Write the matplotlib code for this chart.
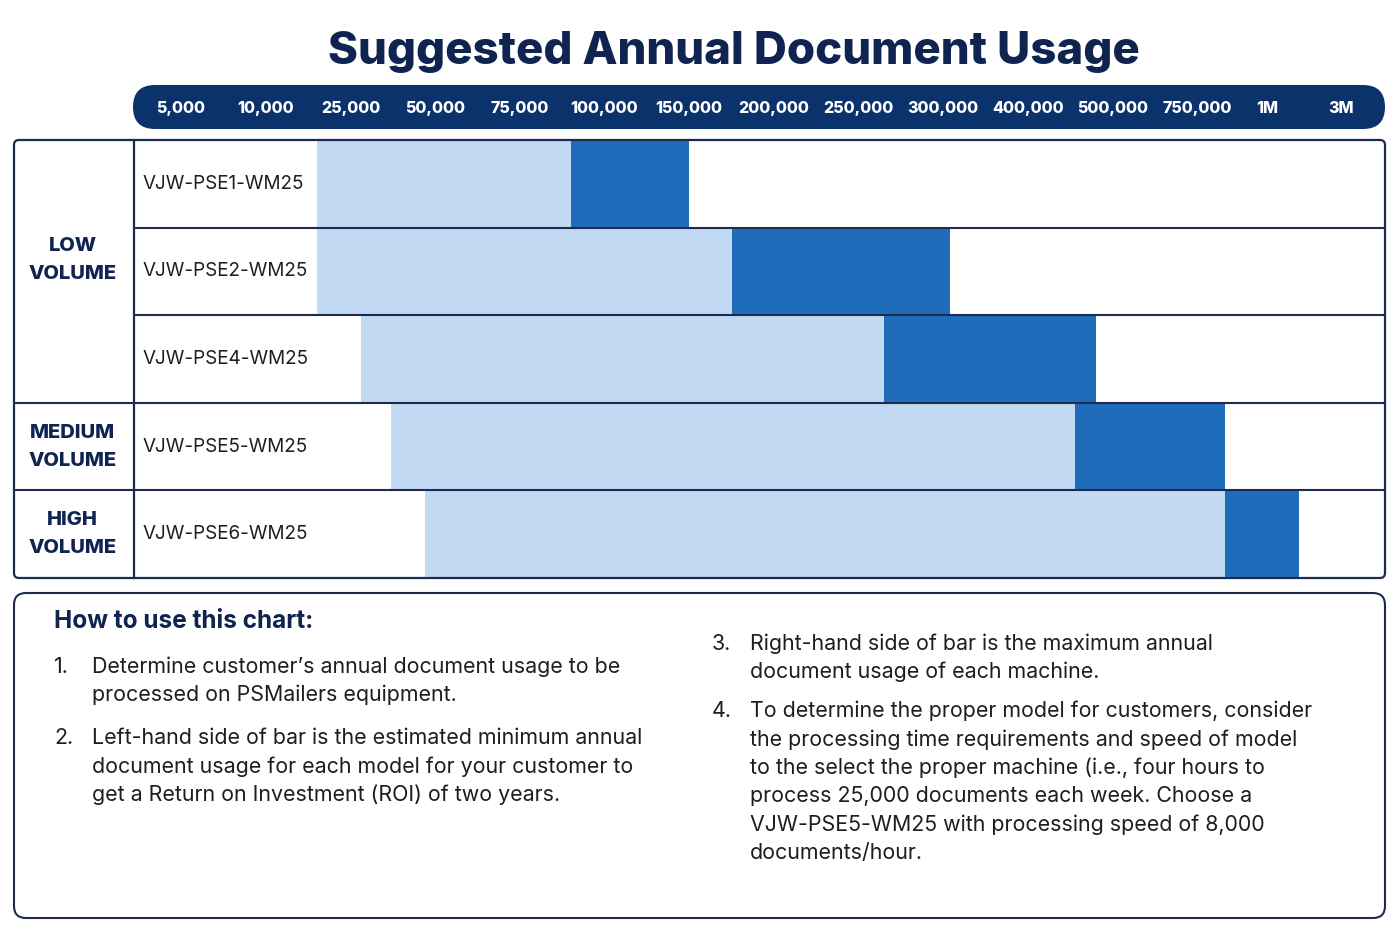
import numpy as np
import matplotlib
matplotlib.use("Agg")
import matplotlib.pyplot as plt
from matplotlib.patches import FancyBboxPatch
from matplotlib import transforms

# ---------------- data ----------------
tick_values = [5000, 10000, 25000, 50000, 75000, 100000, 150000, 200000,
               250000, 300000, 400000, 500000, 750000, 1000000, 3000000]
tick_labels = ["5,000", "10,000", "25,000", "50,000", "75,000", "100,000",
               "150,000", "200,000", "250,000", "300,000", "400,000",
               "500,000", "750,000", "1M", "3M"]
models = ["VJW-PSE1-WM25", "VJW-PSE2-WM25", "VJW-PSE4-WM25",
          "VJW-PSE5-WM25", "VJW-PSE6-WM25"]
groups = ["LOW\nVOLUME", "MEDIUM\nVOLUME", "HIGH\nVOLUME"]
group_sizes = [3, 1, 1]
min_usage = [19000, 19000, 28000, 37000, 47000]          # left edge of light bar
typical_max = [90000, 175000, 265000, 455000, 850000]    # light -> dark boundary
max_usage = [150000, 308000, 480000, 850000, 1860000]    # right edge of dark bar

title = "Suggested Annual Document Usage"
how_title = "How to use this chart:"
items_left = [("1.", "Determine customer\u2019s annual document usage to be\nprocessed on PSMailers equipment."),
              ("2.", "Left-hand side of bar is the estimated minimum annual\ndocument usage for each model for your customer to\nget a Return on Investment (ROI) of two years.")]
items_right = [("3.", "Right-hand side of bar is the maximum annual\ndocument usage of each machine."),
               ("4.", "To determine the proper model for customers, consider\nthe processing time requirements and speed of model\nto the select the proper machine (i.e., four hours to\nprocess 25,000 documents each week. Choose a\nVJW-PSE5-WM25 with processing speed of 8,000\ndocuments/hour.")]

# ---------------- style ----------------
NAVY = "#0f2451"
PILL = "#0c326c"
LINE = "#1c2b4f"
LIGHT = "#c2d9f3"
DARK = "#1f6dba"
TEXT = "#1e1e1e"
plt.rcParams["font.family"] = ["Inter", "DejaVu Sans"]

W, H = 1400, 933
fig = plt.figure(figsize=(14, 9.33), dpi=100)

def fx(x):
    return x / W

def fy(y):
    return 1 - y / H

# table geometry (pixels)
T_L, T_R, T_T, T_B, DIV = 14, 1385, 140, 578, 134

# slot layout of the header labels (13 even slots, last two narrower)
slots = np.r_[np.arange(13), 12.82, 13.70]
ext_vals = np.r_[0, tick_values, 5000000]
ext_slots = np.r_[-1, slots, 14.70]

def forward(v):
    return np.interp(v, ext_vals, ext_slots)

def inverse(s):
    return np.interp(s, ext_slots, ext_vals)

# ---------------- bar axes ----------------
ax = fig.add_axes([fx(DIV), fy(T_B), fx(T_R - DIV), (T_B - T_T) / H])
ax.set_xscale("function", functions=(forward, inverse))
slot_px = 84.7
x0_px = 181
ax.set_xlim(inverse((DIV - x0_px) / slot_px), inverse((T_R - x0_px) / slot_px))
n = len(models)
ax.set_ylim(n, 0)
ypos = np.arange(n) + 0.5
light_w = np.array(typical_max) - np.array(min_usage)
dark_w = np.array(max_usage) - np.array(typical_max)
ax.barh(ypos, light_w, left=min_usage, height=1.0, color=LIGHT, zorder=2)
ax.barh(ypos, dark_w, left=typical_max, height=1.0, color=DARK, zorder=2)
for b in range(1, n):
    ax.axhline(b, color=LINE, lw=1.5, zorder=3)
ax.set_xticks(tick_values)
ax.set_xticklabels(tick_labels)
ax.xaxis.set_minor_locator(matplotlib.ticker.NullLocator())
ax.xaxis.tick_top()
ax.tick_params(axis="x", length=0, pad=17.5, labelcolor="white", labelsize=11.5)
for lab in ax.get_xticklabels():
    lab.set_fontweight("heavy")
ax.set_yticks([])
for s in ax.spines.values():
    s.set_visible(False)

lbl_tr = transforms.blended_transform_factory(ax.transAxes, ax.transData)
for yv, m in zip(ypos, models):
    ax.text(9 / (T_R - DIV), yv, m, transform=lbl_tr, ha="left", va="center",
            fontsize=13.6, color=TEXT, zorder=4)

# ---------------- group column ----------------
axg = fig.add_axes([fx(T_L), fy(T_B), fx(DIV - T_L), (T_B - T_T) / H])
axg.set_xlim(0, 1)
axg.set_ylim(n, 0)
axg.axis("off")
start = 0
for g, sz in zip(groups, group_sizes):
    yc = start + sz / 2 - (0.13 if sz > 1 else 0)
    axg.text(0.49, yc, g, ha="center", va="center", fontsize=14.5,
             fontweight="heavy", color=NAVY, linespacing=1.72)
    start += sz
    if start < n:
        axg.axhline(start, color=LINE, lw=1.5)

# ---------------- overlay (pixel space) ----------------
ov = fig.add_axes([0, 0, 1, 1], zorder=5)
ov.set_xlim(0, W)
ov.set_ylim(H, 0)
ov.axis("off")
ov.patch.set_alpha(0)

bg = fig.add_axes([0, 0, 1, 1], zorder=-1)
bg.set_xlim(0, W)
bg.set_ylim(H, 0)
bg.axis("off")

# title
ov.text(734, 64, title, ha="center", va="baseline", fontsize=32.8,
        fontweight="heavy", color=NAVY)
# header pill
bg.add_patch(FancyBboxPatch((133, 85), 1385 - 133, 44,
                            boxstyle="round,pad=0,rounding_size=22",
                            fc=PILL, ec="none"))
# table border
ov.add_patch(FancyBboxPatch((T_L, T_T), T_R - T_L, T_B - T_T,
                            boxstyle="round,pad=0,rounding_size=5",
                            fc="none", ec=LINE, lw=1.6))
ov.plot([DIV, DIV], [T_T, T_B], color=LINE, lw=1.6)

# instructions box
ov.add_patch(FancyBboxPatch((14, 593), 1385 - 14, 918 - 593,
                            boxstyle="round,pad=0,rounding_size=12",
                            fc="none", ec=LINE, lw=1.5))
ov.text(54, 628, how_title, ha="left", va="baseline", fontsize=17.6,
        fontweight="bold", color=NAVY)

line_h = 28.4
def draw_items(items, xnum, xtxt, base0, gap):
    y = base0
    for num, txt in items:
        ov.text(xnum, y, num, ha="left", va="baseline", fontsize=15.4, color=TEXT)
        for ln in txt.split("\n"):
            ov.text(xtxt, y, ln, ha="left", va="baseline", fontsize=15.4,
                    color=TEXT)
            y += line_h
        y += gap

draw_items(items_left, 54, 92, 673, 14.5)
draw_items(items_right, 712, 750, 650, 10.5)

fig.savefig("out.png", dpi=100)
